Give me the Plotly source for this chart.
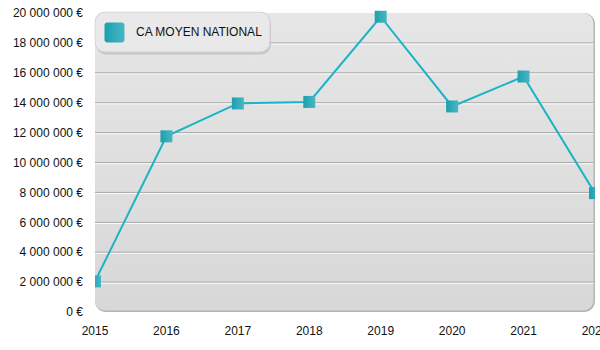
import base64
import plotly.graph_objects as go

# Chiffre d'affaires moyen national par année
years = [2015, 2016, 2017, 2018, 2019, 2020, 2021, 2022]
ca_moyen = [2050000, 11750000, 13950000, 14050000, 19750000, 13750000, 15750000, 7950000]
series_name = "CA MOYEN NATIONAL"

y_ticks = [0, 2000000, 4000000, 6000000, 8000000, 10000000,
           12000000, 14000000, 16000000, 18000000, 20000000]
y_labels = [f"{v:,}".replace(",", " ") + " €" for v in y_ticks]
grid_vals = y_ticks[1:-1]

W, H = 600, 350
M_L, M_R, M_T, M_B = 95, 5, 8, 38
PW, PH = W - M_L - M_R, H - M_T - M_B
Y_MAX = 20000000 * (PH / 299.0)

TEAL_LINE = "#19b4c5"
TEAL_DARK = "#1d9fae"
TEAL_LIGHT = "#47b7c3"
FONT = "Liberation Sans, Arial, Helvetica, sans-serif"


def svg_uri(svg):
    return "data:image/svg+xml;base64," + base64.b64encode(svg.encode()).decode()


# Plot-area panel: rounded, vertical grey gradient, soft edge on right/bottom
panel_svg = f"""<svg xmlns="http://www.w3.org/2000/svg" width="{PW}" height="300" viewBox="0 0 {PW} 300" preserveAspectRatio="none">
<defs><linearGradient id="g" x1="0" y1="0" x2="0" y2="1">
<stop offset="0" stop-color="#e6e6e6"/><stop offset="1" stop-color="#d8d8d8"/></linearGradient></defs>
<rect x="0" y="0" width="{PW}" height="300" rx="11" fill="#b4b4b4"/>
<rect x="0" y="0" width="{PW - 1.5}" height="298.5" rx="10" fill="url(#g)"/>
</svg>"""

# Legend box with rounded corners and teal swatch
LEG_W, LEG_H = 178, 44
legend_svg = f"""<svg xmlns="http://www.w3.org/2000/svg" width="{LEG_W}" height="{LEG_H}" viewBox="0 0 {LEG_W} {LEG_H}">
<defs><linearGradient id="s" x1="0" y1="0" x2="1" y2="0">
<stop offset="0" stop-color="{TEAL_DARK}"/><stop offset="1" stop-color="{TEAL_LIGHT}"/></linearGradient></defs>
<rect x="1.5" y="2" width="175" height="41" rx="10" fill="#000" fill-opacity="0.13"/>
<rect x="0.5" y="0.5" width="175" height="40" rx="10" fill="#e9e9e9" stroke="#d2d2d2" stroke-width="1"/>
<rect x="10" y="11" width="20" height="20" rx="3" fill="url(#s)"/>
</svg>"""

fig = go.Figure()
fig.add_trace(go.Scatter(
    x=years, y=ca_moyen, name=series_name, mode="lines+markers",
    line=dict(color=TEAL_LINE, width=2),
    marker=dict(symbol="square", size=12, color=TEAL_DARK,
                gradient=dict(type="horizontal", color=TEAL_LIGHT),
                line=dict(width=0)),
    cliponaxis=True, showlegend=False,
))

shapes = []
for v in grid_vals:
    shapes.append(dict(type="line", xref="paper", yref="y", x0=0, x1=0.997, y0=v, y1=v,
                       line=dict(color="#a9a9a9", width=1), layer="below"))
    shapes.append(dict(type="line", xref="paper", yref="y", x0=0, x1=0.997,
                       ysizemode="pixel", yanchor=v, y0=-1.2, y1=-1.2,
                       line=dict(color="#fafafa", width=1), layer="below"))

images = [
    dict(source=svg_uri(panel_svg), xref="paper", yref="y", x=0, y=20000000,
         sizex=1, sizey=20000000, xanchor="left", yanchor="top",
         sizing="stretch", layer="below"),
    dict(source=svg_uri(legend_svg), xref="paper", yref="paper",
         x=(94.5 - M_L) / PW, y=(H - M_B - 11.5) / PH,
         sizex=LEG_W / PW, sizey=LEG_H / PH, xanchor="left", yanchor="top",
         sizing="stretch", layer="above"),
]

fig.update_layout(
    width=W, height=H,
    margin=dict(l=M_L, r=M_R, t=M_T, b=M_B, pad=0, autoexpand=False),
    paper_bgcolor="white", plot_bgcolor="rgba(0,0,0,0)",
    font=dict(family=FONT, size=12, color="#111111"),
    showlegend=False,
    shapes=shapes, images=images,
    annotations=[dict(text=series_name, xref="paper", yref="paper",
                      x=(134 - M_L) / PW, y=(H - M_B - 32) / PH,
                      xanchor="left", yanchor="middle", showarrow=False,
                      font=dict(family=FONT, size=12, color="#111111"))],
    xaxis=dict(range=[years[0], years[-1]], tickmode="array", tickvals=years,
               ticktext=[str(y) for y in years], showgrid=False, zeroline=False,
               showline=False, ticks="", ticklabelstandoff=10, automargin=False,
               ticklabeloverflow="allow", fixedrange=True),
    yaxis=dict(range=[0, Y_MAX], tickmode="array", tickvals=y_ticks, ticktext=y_labels,
               showgrid=False, zeroline=False, showline=False, ticks="",
               ticklabelstandoff=11, automargin=False,
               ticklabeloverflow="allow", fixedrange=True),
)

fig.write_html("out.html")
